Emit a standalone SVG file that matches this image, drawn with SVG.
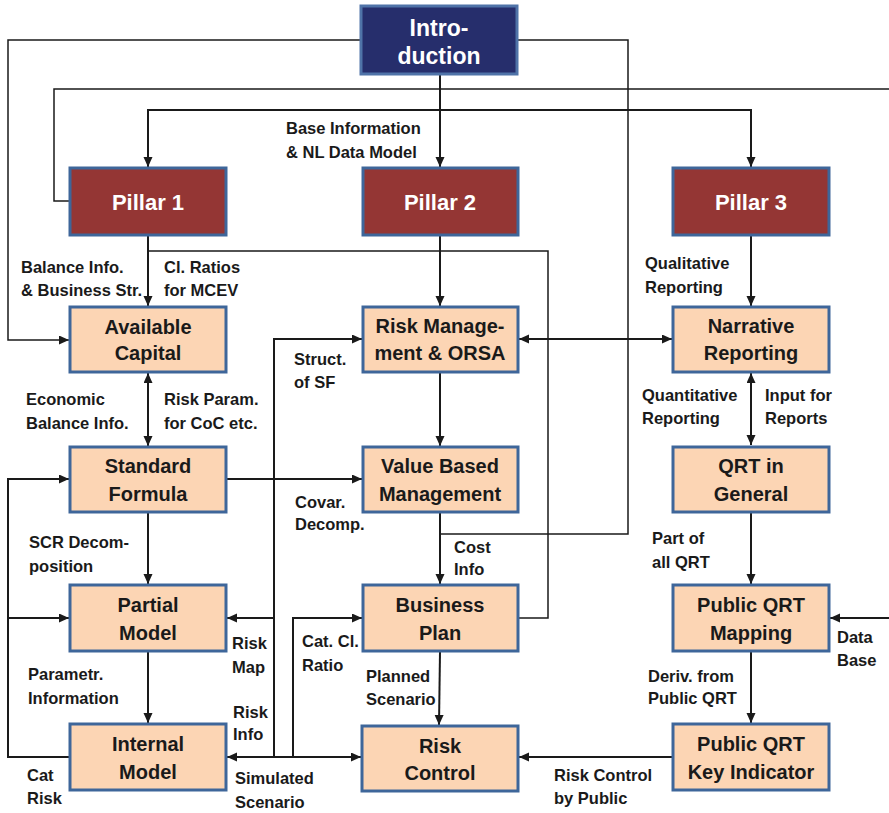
<svg xmlns="http://www.w3.org/2000/svg" width="889" height="813" viewBox="0 0 889 813">
<defs>
<marker id="ah" markerUnits="userSpaceOnUse" markerWidth="11" markerHeight="10" refX="10" refY="4.5" orient="auto-start-reverse"><path d="M0,0 L10,4.5 L0,9 z" fill="#1a1a1a"/></marker>
<style>
.c{fill:none;stroke:#1a1a1a;stroke-width:2}
.t{stroke:#1a1a1a;stroke-width:1.5;fill:none}
.a{marker-end:url(#ah)}
.b{marker-start:url(#ah);marker-end:url(#ah)}
.box{fill:#fcd5b4;stroke:#3e669a;stroke-width:3}
.pil{fill:#943634;stroke:#3e669a;stroke-width:3}
.intro{fill:#262e6c;stroke:#4f73a8;stroke-width:3}
.bt{font-family:"Liberation Sans",Arial,sans-serif;font-weight:bold;font-size:20px;fill:#1a1a1a;text-anchor:middle}
.pt{font-family:"Liberation Sans",Arial,sans-serif;font-weight:bold;font-size:22px;fill:#fff;text-anchor:middle}
.it{font-family:"Liberation Sans",Arial,sans-serif;font-weight:bold;font-size:23px;fill:#fff;text-anchor:middle}
.l{font-family:"Liberation Sans",Arial,sans-serif;font-weight:bold;font-size:16.5px;fill:#1a1a1a}
</style>
</defs>
<rect width="889" height="813" fill="#fff"/>
<g id="connectors">
<path class="t a" d="M360,40 H8 V340 H69"/>
<path class="t" d="M518,40 H628 V534 H440"/>
<path class="t" d="M69,201 H54 V89 H889"/>
<path class="c b" d="M148,167 V110 H751 V167"/>
<path class="c a" d="M440,75 V167"/>
<path class="c a" d="M148,236 V306"/>
<path class="t" d="M519,618 H548 V251 H148"/>
<path class="c a" d="M440,236 V306"/>
<path class="c b" d="M519,339 H672"/>
<path class="c a" d="M751,236 V306"/>
<path class="c b" d="M751,373 V445"/>
<path class="c a" d="M751,513 V584"/>
<path class="c a" d="M889,618 H830"/>
<path class="c a" d="M751,652 V723"/>
<path class="c a" d="M672,757 H519"/>
<path class="c b" d="M148,373 V446"/>
<path class="c a" d="M148,513 V584"/>
<path class="c a" d="M148,652 V723"/>
<path class="c a" d="M227,479 H362"/>
<path class="c a" d="M440,373 V446"/>
<path class="c a" d="M440,513 V584"/>
<path class="c a" d="M440,652 L439,725"/>
<path class="c a" d="M69,757 H8 V479 H69"/>
<path class="c a" d="M8,618 H69"/>
<path class="c b" d="M227,757 H361"/>
<path class="c a" d="M274,757 V339 H362"/>
<path class="c a" d="M274,618 H227"/>
<path class="c a" d="M293,757 V618 H362"/>
</g>
<g id="introduction"><rect class="intro" x="361" y="6" width="156" height="68"/><text class="it" x="439" y="36">Intro-</text><text class="it" x="439" y="64">duction</text></g>
<g id="pillar1"><rect class="pil" x="70" y="168" width="156" height="67"/><text class="pt" x="148" y="210">Pillar 1</text></g>
<g id="pillar2"><rect class="pil" x="363" y="168" width="155" height="67"/><text class="pt" x="440" y="210">Pillar 2</text></g>
<g id="pillar3"><rect class="pil" x="673" y="168" width="156" height="67"/><text class="pt" x="751" y="210">Pillar 3</text></g>
<g id="available-capital"><rect class="box" x="70" y="307" width="156" height="65"/><text class="bt" x="148" y="334">Available</text><text class="bt" x="148" y="360">Capital</text></g>
<g id="risk-management"><rect class="box" x="363" y="307" width="155" height="65"/><text class="bt" x="440" y="333">Risk Manage-</text><text class="bt" x="440" y="360">ment &amp; ORSA</text></g>
<g id="narrative-reporting"><rect class="box" x="673" y="307" width="156" height="65"/><text class="bt" x="751" y="333">Narrative</text><text class="bt" x="751" y="360">Reporting</text></g>
<g id="standard-formula"><rect class="box" x="70" y="447" width="156" height="65"/><text class="bt" x="148" y="473">Standard</text><text class="bt" x="148" y="501">Formula</text></g>
<g id="value-based-management"><rect class="box" x="363" y="447" width="155" height="65"/><text class="bt" x="440" y="473">Value Based</text><text class="bt" x="440" y="501">Management</text></g>
<g id="qrt-general"><rect class="box" x="673" y="447" width="156" height="65"/><text class="bt" x="751" y="473">QRT in</text><text class="bt" x="751" y="501">General</text></g>
<g id="partial-model"><rect class="box" x="70" y="585" width="156" height="66"/><text class="bt" x="148" y="612">Partial</text><text class="bt" x="148" y="640">Model</text></g>
<g id="business-plan"><rect class="box" x="363" y="585" width="155" height="66"/><text class="bt" x="440" y="612">Business</text><text class="bt" x="440" y="640">Plan</text></g>
<g id="public-qrt-mapping"><rect class="box" x="673" y="585" width="156" height="66"/><text class="bt" x="751" y="612">Public QRT</text><text class="bt" x="751" y="640">Mapping</text></g>
<g id="internal-model"><rect class="box" x="70" y="724" width="156" height="66"/><text class="bt" x="148" y="751">Internal</text><text class="bt" x="148" y="779">Model</text></g>
<g id="risk-control"><rect class="box" x="362" y="726" width="156" height="65"/><text class="bt" x="440" y="753">Risk</text><text class="bt" x="440" y="780">Control</text></g>
<g id="public-qrt-key-indicator"><rect class="box" x="673" y="724" width="156" height="66"/><text class="bt" x="751" y="751">Public QRT</text><text class="bt" x="751" y="779">Key Indicator</text></g>
<g id="labels">
<text class="l" x="286" y="134">Base Information</text><text class="l" x="286" y="158">&amp; NL Data Model</text>
<text class="l" x="21" y="273">Balance Info.</text><text class="l" x="21" y="296">&amp; Business Str.</text>
<text class="l" x="164" y="273">Cl. Ratios</text><text class="l" x="164" y="296">for MCEV</text>
<text class="l" x="26" y="405">Economic</text><text class="l" x="26" y="429">Balance Info.</text>
<text class="l" x="164" y="405">Risk Param.</text><text class="l" x="164" y="429">for CoC etc.</text>
<text class="l" x="294" y="365">Struct.</text><text class="l" x="294" y="388">of SF</text>
<text class="l" x="645" y="269">Qualitative</text><text class="l" x="645" y="293">Reporting</text>
<text class="l" x="642" y="401">Quantitative</text><text class="l" x="642" y="424">Reporting</text>
<text class="l" x="765" y="401">Input for</text><text class="l" x="765" y="424">Reports</text>
<text class="l" x="295" y="508">Covar.</text><text class="l" x="295" y="530">Decomp.</text>
<text class="l" x="29" y="548">SCR Decom-</text><text class="l" x="29" y="572">position</text>
<text class="l" x="454" y="553">Cost</text><text class="l" x="454" y="575">Info</text>
<text class="l" x="652" y="544">Part of</text><text class="l" x="652" y="568">all QRT</text>
<text class="l" x="232" y="649">Risk</text><text class="l" x="232" y="673">Map</text>
<text class="l" x="302" y="647">Cat. Cl.</text><text class="l" x="302" y="671">Ratio</text>
<text class="l" x="837" y="643">Data</text><text class="l" x="837" y="666">Base</text>
<text class="l" x="28" y="680">Parametr.</text><text class="l" x="28" y="704">Information</text>
<text class="l" x="366" y="682">Planned</text><text class="l" x="366" y="705">Scenario</text>
<text class="l" x="648" y="682">Deriv. from</text><text class="l" x="648" y="704">Public QRT</text>
<text class="l" x="233" y="718">Risk</text><text class="l" x="233" y="740">Info</text>
<text class="l" x="27" y="781">Cat</text><text class="l" x="27" y="804">Risk</text>
<text class="l" x="235" y="784">Simulated</text><text class="l" x="235" y="808">Scenario</text>
<text class="l" x="554" y="781">Risk Control</text><text class="l" x="554" y="804">by Public</text>
</g>
</svg>
